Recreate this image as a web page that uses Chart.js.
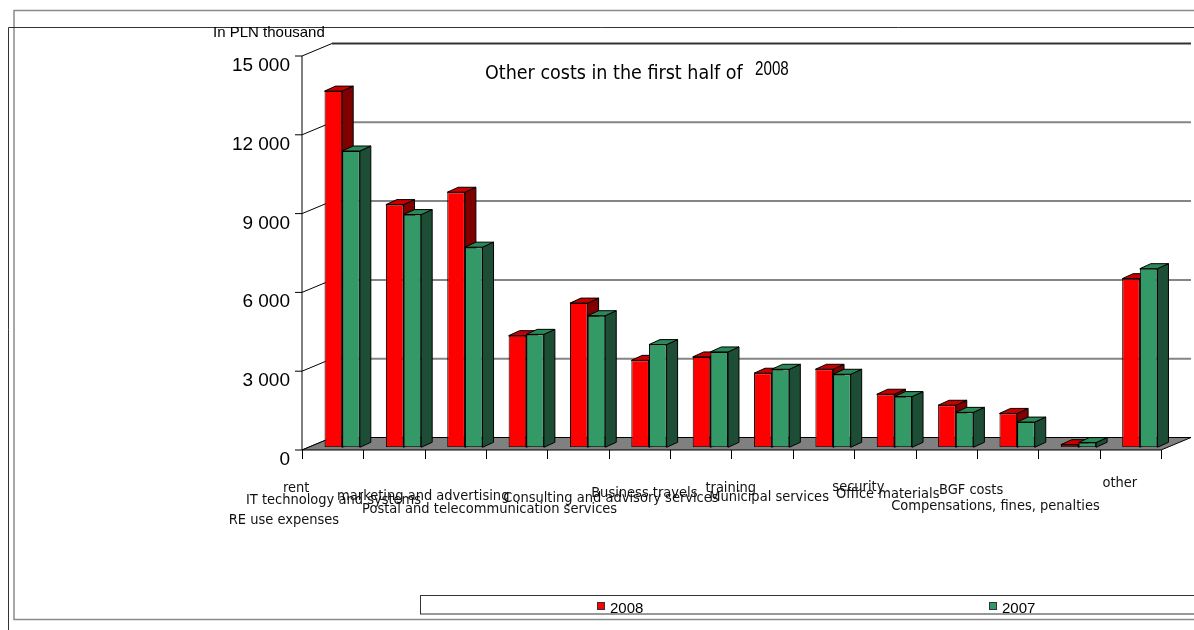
<!DOCTYPE html>
<html>
<head>
<meta charset="utf-8">
<title>Other costs in the first half of 2008</title>
<script src="https://cdn.jsdelivr.net/npm/chart.js@4.4.1/dist/chart.umd.min.js"></script>
<style>
  html, body { margin: 0; padding: 0; background: #fff; }
  #wrap { position: relative; width: 1194px; height: 630px; }
</style>
</head>
<body>
<div id="wrap"><canvas id="costs"></canvas></div>
<script>
"use strict";

var categories = ["rent", "IT technology and systems", "RE use expenses", "marketing and advertising",
    "Postal and telecommunication services", "Consulting and advisory services", "Business travels",
    "training", "Municipal services", "security", "Office materials", "BGF costs",
    "Compensations, fines, penalties", "other"];
var costs2008 = [13560, 9240, 9710, 4250, 5490, 3310, 3440, 2820, 2970, 2020, 1600, 1290, 100, 6420];
var costs2007 = [11280, 8860, 7620, 4300, 5010, 3910, 3630, 2970, 2780, 1930, 1330, 960, 180, 6800];
var yTicks = [0, 3000, 6000, 9000, 12000, 15000];
var seriesNames = ["2008", "2007"];

// fake 3d: offsets of the front edge and the back wall from the plane the bars stand in
var FRONT = { dx: -9.5, dy: 2.7 };
var BACK = { dx: 20.5, dy: -9.8 };
var BAR_DEPTH = { dx: 11, dy: -5 };

// face colours per series: front, top, side
var shades = [
    { front: "#ff0000", top: "#c80000", side: "#800000" },
    { front: "#339966", top: "#2c8759", side: "#1e4d36" }
];

// category labels are staggered: [shift from category centre, baseline below floor edge]
var labelPlace = [[-46, 42], [-70, 54], [-181, 74], [-103, 50], [-98, 63], [-38, 52], [-66, 47],
    [-41, 42], [-64, 51], [-36, 41], [-68, 48], [-46, 44], [-83, 60], [-20, 37]];

var LABEL_FONT = '14.5px "DejaVu Sans Condensed", "DejaVu Sans", sans-serif';

function spaced(v) {
    return String(v).replace(/\B(?=(\d{3})+(?!\d))/g, " ");
}

function poly(ctx, pts) {
    ctx.beginPath();
    ctx.moveTo(pts[0][0], pts[0][1]);
    for (var i = 1; i < pts.length; i++) ctx.lineTo(pts[i][0], pts[i][1]);
    ctx.closePath();
    ctx.fill();
    ctx.stroke();
}

// outer frames around the whole picture
var framePlugin = {
    id: "frames",
    beforeDraw: function (chart) {
        var ctx = chart.ctx;
        ctx.save();
        ctx.fillStyle = "#fff";
        ctx.fillRect(0, 0, chart.width, chart.height);
        ctx.strokeStyle = "#8a8a8a";
        ctx.lineWidth = 1.5;
        ctx.strokeRect(14, 10.5, chart.width + 20, 609);
        ctx.strokeStyle = "#333";
        ctx.lineWidth = 1;
        ctx.beginPath();
        ctx.moveTo(chart.width + 5, 27.5);
        ctx.lineTo(8.5, 27.5);
        ctx.lineTo(8.5, chart.height + 5);
        ctx.stroke();
        ctx.restore();
    }
};

// walls, floor, axis and the top/side faces of every bar
var wallsPlugin = {
    id: "walls3d",
    beforeDatasetsDraw: function (chart) {
        var ctx = chart.ctx;
        var xs = chart.scales.x, ys = chart.scales.y;
        var area = chart.chartArea;
        var left = area.left, right = area.right;
        var y0 = ys.getPixelForValue(0);
        var top = yTicks[yTicks.length - 1];
        var step = xs.getPixelForValue(1) - xs.getPixelForValue(0);

        ctx.save();
        // back wall grid
        ctx.lineWidth = 2;
        yTicks.forEach(function (v) {
            if (v === 0) return;
            var py = ys.getPixelForValue(v) + BACK.dy;
            ctx.strokeStyle = v === top ? "#333" : "#858585";
            ctx.beginPath();
            ctx.moveTo(left + BACK.dx, py);
            ctx.lineTo(right + BACK.dx, py);
            ctx.stroke();
        });

        // side wall lines + tick marks on the front axis
        ctx.lineWidth = 1;
        ctx.strokeStyle = "#000";
        yTicks.forEach(function (v) {
            var py = ys.getPixelForValue(v);
            ctx.beginPath();
            ctx.moveTo(left + FRONT.dx - 7, py + FRONT.dy);
            ctx.lineTo(left + FRONT.dx, py + FRONT.dy);
            ctx.lineTo(left + BACK.dx, py + BACK.dy);
            ctx.stroke();
        });
        ctx.beginPath();
        ctx.moveTo(left + FRONT.dx, ys.getPixelForValue(top) + FRONT.dy);
        ctx.lineTo(left + FRONT.dx, y0 + FRONT.dy);
        ctx.stroke();

        // floor
        ctx.fillStyle = "#808080";
        ctx.strokeStyle = "#000";
        poly(ctx, [[left + FRONT.dx, y0 + FRONT.dy], [right + FRONT.dx, y0 + FRONT.dy],
            [right + BACK.dx, y0 + BACK.dy], [left + BACK.dx, y0 + BACK.dy]]);

        // category ticks below the front edge
        for (var i = 0; i <= categories.length; i++) {
            var bx = Math.round(xs.getPixelForValue(i) - step / 2 + FRONT.dx) + 0.5;
            ctx.beginPath();
            ctx.moveTo(bx, y0 + FRONT.dy);
            ctx.lineTo(bx, y0 + FRONT.dy + 9);
            ctx.stroke();
        }

        // tops and sides, the fronts come from the bar elements afterwards
        chart.data.datasets.forEach(function (ds, di) {
            var meta = chart.getDatasetMeta(di);
            var c = shades[di];
            meta.data.forEach(function (bar) {
                var p = bar.getProps(["x", "y", "base", "width"], true);
                var l = p.x - p.width / 2, r = p.x + p.width / 2;
                var t = Math.min(p.y, p.base), b = Math.max(p.y, p.base);
                ctx.fillStyle = c.side;
                poly(ctx, [[r, t], [r + BAR_DEPTH.dx, t + BAR_DEPTH.dy],
                    [r + BAR_DEPTH.dx, b + BAR_DEPTH.dy], [r, b]]);
                ctx.fillStyle = c.top;
                poly(ctx, [[l, t], [l + BAR_DEPTH.dx, t + BAR_DEPTH.dy],
                    [r + BAR_DEPTH.dx, t + BAR_DEPTH.dy], [r, t]]);
            });
        });
        ctx.restore();
    }
};

// titles, category labels and the legend strip
var textPlugin = {
    id: "texts",
    afterDraw: function (chart) {
        var ctx = chart.ctx;
        var xs = chart.scales.x, ys = chart.scales.y;
        var floorY = ys.getPixelForValue(0) + FRONT.dy;

        ctx.save();
        ctx.fillStyle = "#000";
        ctx.textBaseline = "alphabetic";

        ctx.font = '15px "Liberation Sans", Arial, sans-serif';
        ctx.fillText("In PLN thousand", 213, 36.5);

        ctx.font = '19.5px "DejaVu Sans Condensed", "DejaVu Sans", sans-serif';
        ctx.fillText("Other costs in the first half of", 485, 79);
        // the year sits a little higher, in a narrow face
        ctx.save();
        ctx.translate(755, 75);
        ctx.scale(0.76, 1);
        ctx.font = '20px "Liberation Sans", Arial, sans-serif';
        ctx.fillText(seriesNames[0], 0, 0);
        ctx.restore();

        ctx.font = LABEL_FONT;
        ctx.textAlign = "center";
        ctx.fillStyle = "#111";
        categories.forEach(function (name, i) {
            var cx = xs.getPixelForValue(i) + labelPlace[i][0];
            ctx.fillText(name, cx, floorY + labelPlace[i][1]);
        });

        // legend
        ctx.textAlign = "left";
        ctx.strokeStyle = "#333";
        ctx.lineWidth = 1;
        ctx.strokeRect(420.5, 595.5, chart.width, 18.5);
        var slots = [597, 989];
        ctx.font = '15px "Liberation Sans", Arial, sans-serif';
        seriesNames.forEach(function (name, i) {
            ctx.fillStyle = shades[i].front;
            ctx.fillRect(slots[i] + 0.5, 602.5, 7, 7);
            ctx.strokeRect(slots[i] + 0.5, 602.5, 7, 7);
            ctx.fillStyle = "#000";
            ctx.fillText(name, slots[i] + 13, 613);
        });
        ctx.restore();
    }
};

var canvas = document.getElementById("costs");
new Chart(canvas, {
    type: "bar",
    data: {
        labels: categories,
        datasets: [
            {
                label: seriesNames[0],
                data: costs2008,
                backgroundColor: shades[0].front,
                borderColor: "#000",
                borderWidth: 1,
                borderSkipped: false
            },
            {
                label: seriesNames[1],
                data: costs2007,
                backgroundColor: shades[1].front,
                borderColor: "#000",
                borderWidth: 1,
                borderSkipped: false
            }
        ]
    },
    options: {
        responsive: true,
        maintainAspectRatio: false,
        animation: false,
        layout: { padding: { left: 0, right: 23.5, top: 53.3, bottom: 182.7 } },
        datasets: { bar: { categoryPercentage: 0.575, barPercentage: 1 } },
        plugins: {
            legend: { display: false },
            tooltip: { enabled: false }
        },
        scales: {
            x: { display: false },
            y: {
                min: 0,
                max: 15000,
                afterFit: function (scale) { scale.width = 311.5; },
                afterBuildTicks: function (scale) {
                    scale.ticks = yTicks.map(function (v) { return { value: v }; });
                },
                grid: { display: false, drawTicks: false },
                border: { display: false },
                ticks: {
                    padding: 21.5,
                    labelOffset: 12.5,
                    color: "#000",
                    font: { family: "Liberation Sans", size: 19 },
                    callback: function (v) { return spaced(v); }
                }
            }
        }
    },
    plugins: [framePlugin, wallsPlugin, textPlugin]
});
</script>
</body>
</html>
